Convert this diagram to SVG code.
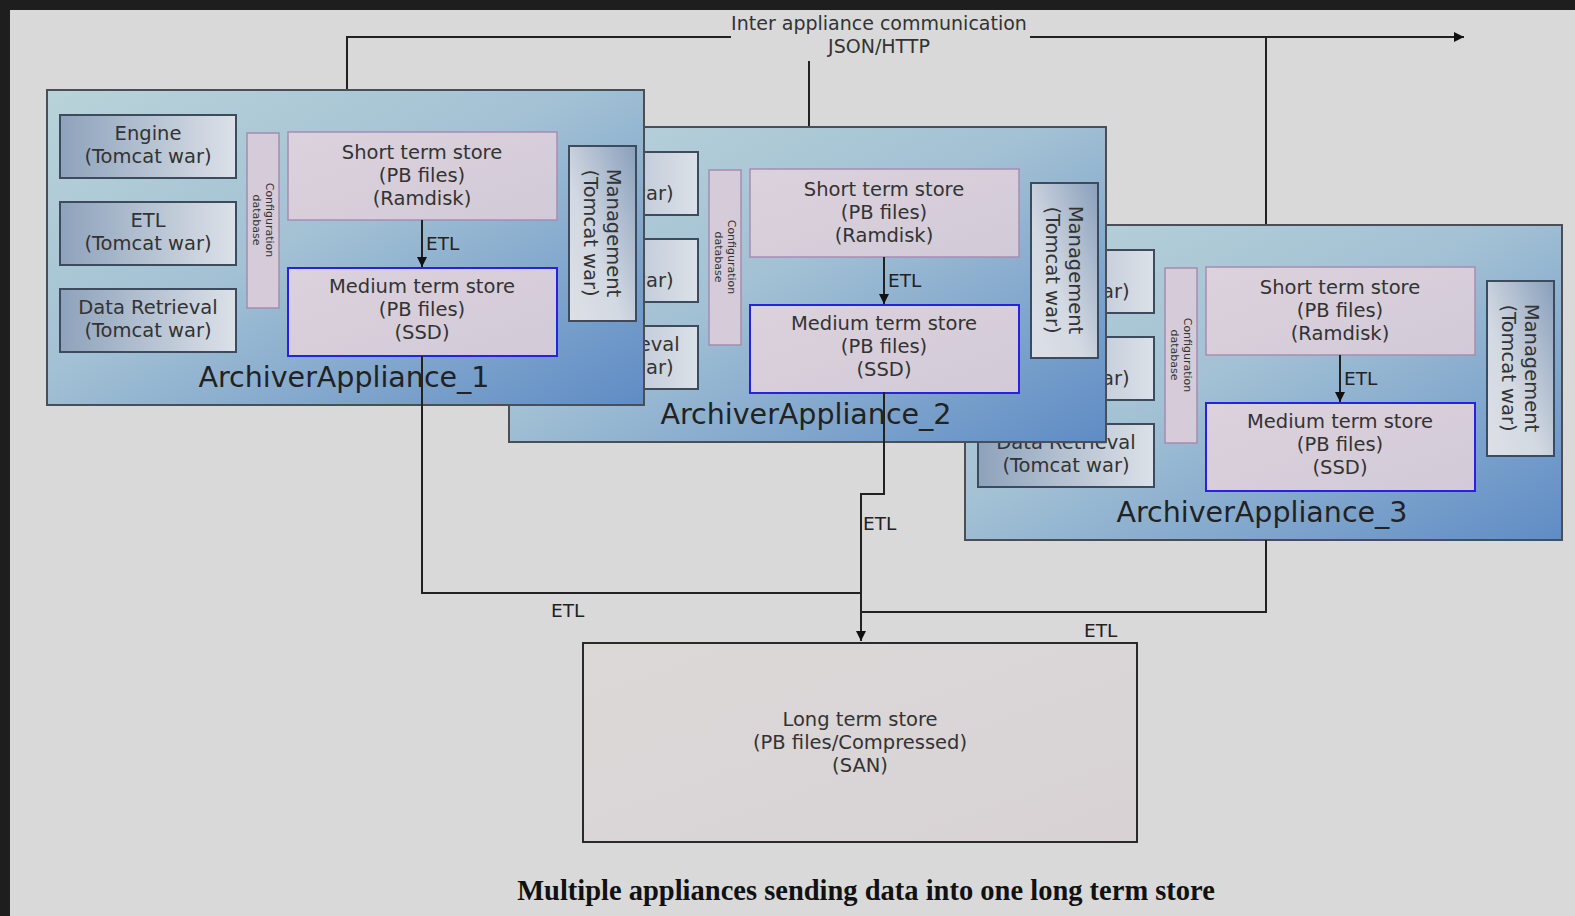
<svg xmlns="http://www.w3.org/2000/svg" width="1575" height="916" viewBox="0 0 1575 916">
<defs>
<linearGradient id="gApp" x1="0" y1="0" x2="1" y2="1">
<stop offset="0" stop-color="#b9d3d9"/>
<stop offset="0.45" stop-color="#a3c1d4"/>
<stop offset="1" stop-color="#5f8cc5"/>
</linearGradient>
<linearGradient id="gWar" x1="0" y1="0" x2="1" y2="0">
<stop offset="0" stop-color="#8da2bb"/>
<stop offset="1" stop-color="#dce1e8"/>
</linearGradient>
<linearGradient id="gMgmt" x1="1" y1="0" x2="0" y2="1">
<stop offset="0" stop-color="#889fbb"/>
<stop offset="0.6" stop-color="#d3d9e2"/>
<stop offset="1" stop-color="#dde0e6"/>
</linearGradient>
<linearGradient id="gStore" x1="0" y1="0" x2="1" y2="1">
<stop offset="0" stop-color="#dcd2dc"/>
<stop offset="1" stop-color="#d2cad8"/>
</linearGradient>
<linearGradient id="gLong" x1="0" y1="0" x2="1" y2="1">
<stop offset="0" stop-color="#dcd8d8"/>
<stop offset="1" stop-color="#d8d2d4"/>
</linearGradient>
<marker id="arr" viewBox="0 0 10 10" refX="10" refY="5" markerWidth="10" markerHeight="10" markerUnits="userSpaceOnUse" orient="auto">
<path d="M0,0 L10,5 L0,10 z" fill="#111"/>
</marker>
<style>
.app{fill:url(#gApp);stroke:#4a4f57;stroke-width:2}
.war{fill:url(#gWar);stroke:#3e4b5c;stroke-width:2}
.mgmt{fill:url(#gMgmt);stroke:#3e4b5c;stroke-width:2}
.cfg{fill:#d6ccd9;stroke:#a48cb0;stroke-width:1.5}
.st{fill:url(#gStore);stroke:#a78cb4;stroke-width:1.5}
.md{fill:url(#gStore);stroke:#2424e0;stroke-width:2}
.t{font-family:"DejaVu Sans",Verdana,sans-serif;font-size:19.5px;fill:#333;text-anchor:middle}
.tt{font-family:"DejaVu Sans",Verdana,sans-serif;font-size:19px;fill:#333;text-anchor:middle}
.ts{font-family:"DejaVu Sans",Verdana,sans-serif;font-size:11px;fill:#333;text-anchor:middle}
.tl{font-family:"DejaVu Sans",Verdana,sans-serif;font-size:28.5px;fill:#222;text-anchor:middle}
.te{font-family:"DejaVu Sans",Verdana,sans-serif;font-size:18.5px;fill:#222}
.ln{fill:none;stroke:#222;stroke-width:2}
.cap{font-family:"Liberation Serif","Times New Roman",serif;font-size:28.5px;font-weight:bold;fill:#111;text-anchor:middle}
</style>
<g id="applianceTpl">
<rect class="app" x="47" y="90" width="597" height="315"/>
<g><rect class="war" x="60" y="115" width="176" height="63"/><text class="t" x="148" y="140">Engine</text><text class="t" x="148" y="163">(Tomcat war)</text></g>
<g><rect class="war" x="60" y="202" width="176" height="63"/><text class="t" x="148" y="227">ETL</text><text class="t" x="148" y="250">(Tomcat war)</text></g>
<g><rect class="war" x="60" y="289" width="176" height="63"/><text class="t" x="148" y="314">Data Retrieval</text><text class="t" x="148" y="337">(Tomcat war)</text></g>
<g><rect class="cfg" x="247" y="133" width="32" height="175"/><g transform="translate(263,220) rotate(90)"><text class="ts" x="0" y="-3">Configuration</text><text class="ts" x="0" y="10">database</text></g></g>
<g><rect class="st" x="288" y="132" width="269" height="88"/><text class="t" x="422" y="159">Short term store</text><text class="t" x="422" y="182">(PB files)</text><text class="t" x="422" y="205">(Ramdisk)</text></g>
<g><rect class="md" x="288" y="268" width="269" height="88"/><text class="t" x="422" y="293">Medium term store</text><text class="t" x="422" y="316">(PB files)</text><text class="t" x="422" y="339">(SSD)</text></g>
<g><rect class="mgmt" x="569" y="146" width="67" height="175"/><g transform="translate(602,233) rotate(90)"><text class="t" x="0" y="-5">Management</text><text class="t" x="0" y="18">(Tomcat war)</text></g></g>
<line class="ln" x1="422" y1="220" x2="422" y2="267" marker-end="url(#arr)"/>
<text class="te" x="426" y="250">ETL</text>
</g>
</defs>
<rect x="0" y="0" width="1575" height="916" fill="#1e1e1e"/>
<rect x="10" y="10" width="1565" height="906" fill="#d9d9d9"/>
<g id="connectors-back">
<polyline class="ln" points="347,90 347,37 731,37"/>
<line class="ln" x1="1030" y1="37" x2="1464" y2="37" marker-end="url(#arr)"/>
<line class="ln" x1="809" y1="61" x2="809" y2="127"/>
<line class="ln" x1="1266" y1="37" x2="1266" y2="225"/>
<text class="tt" x="879" y="30">Inter appliance communication</text>
<text class="tt" x="879" y="53">JSON/HTTP</text>
</g>
<g id="appliance3" transform="translate(918,135)">
<use href="#applianceTpl"/>
<text class="tl" x="344" y="387">ArchiverAppliance_3</text>
</g>
<g id="appliance2" transform="translate(462,37)">
<use href="#applianceTpl"/>
<text class="tl" x="344" y="387">ArchiverAppliance_2</text>
</g>
<g id="appliance1">
<use href="#applianceTpl"/>
<text class="tl" x="344" y="387">ArchiverAppliance_1</text>
</g>
<g id="longterm">
<rect x="583" y="643" width="554" height="199" fill="url(#gLong)" stroke="#2a2a2a" stroke-width="2"/>
<text class="t" x="860" y="726">Long term store</text>
<text class="t" x="860" y="749">(PB files/Compressed)</text>
<text class="t" x="860" y="772">(SAN)</text>
</g>
<g id="connectors">
<polyline class="ln" points="422,356 422,593 861,593"/>
<polyline class="ln" points="884,392 884,494 861,494 861,641" marker-end="url(#arr)"/>
<polyline class="ln" points="1266,540 1266,612 861,612"/>
<text class="te" x="863" y="530">ETL</text>
<text class="te" x="551" y="617">ETL</text>
<text class="te" x="1084" y="637">ETL</text>
</g>
<text class="cap" x="866" y="900">Multiple appliances sending data into one long term store</text>
</svg>
